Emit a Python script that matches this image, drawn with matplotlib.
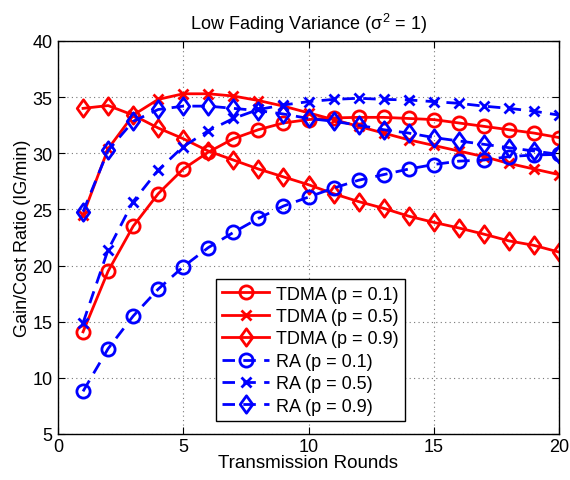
import matplotlib
matplotlib.use("Agg")
import matplotlib.pyplot as plt
from matplotlib.path import Path
import numpy as np

plt.rcParams['font.family'] = ['Liberation Sans', 'DejaVu Sans']
plt.rcParams['mathtext.fontset'] = 'custom'
plt.rcParams['mathtext.rm'] = 'Liberation Sans'
plt.rcParams['mathtext.it'] = 'Liberation Sans'

rounds = list(range(1, 21))
tdma_p01 = [14.1, 19.5, 23.5, 26.4, 28.6, 30.1, 31.3, 32.1, 32.7, 33.0,
            33.15, 33.2, 33.2, 33.1, 33.0, 32.7, 32.4, 32.1, 31.8, 31.4]
tdma_p05 = [24.5, 30.4, 33.4, 34.8, 35.3, 35.3, 35.1, 34.7, 34.2, 33.6,
            33.0, 32.4, 31.8, 31.2, 30.7, 30.2, 29.7, 29.1, 28.6, 28.1]
tdma_p09 = [34.0, 34.25, 33.4, 32.25, 31.3, 30.2, 29.4, 28.6, 27.9, 27.2,
            26.4, 25.7, 25.1, 24.4, 23.85, 23.35, 22.8, 22.2, 21.8, 21.2]
ra_p01 = [8.8, 12.6, 15.5, 17.9, 19.9, 21.6, 22.95, 24.2, 25.3, 26.1,
          26.9, 27.6, 28.1, 28.6, 29.0, 29.3, 29.4, 29.7, 29.85, 29.9]
ra_p05 = [14.9, 21.4, 25.7, 28.5, 30.6, 32.0, 33.1, 33.9, 34.3, 34.6,
          34.8, 34.9, 34.8, 34.75, 34.6, 34.45, 34.2, 34.0, 33.75, 33.4]
ra_p09 = [24.8, 30.25, 32.85, 33.9, 34.2, 34.2, 34.0, 33.8, 33.5, 33.1,
          32.85, 32.5, 32.1, 31.8, 31.4, 31.1, 30.8, 30.5, 30.2, 29.9]

labels = ['TDMA (p = 0.1)', 'TDMA (p = 0.5)', 'TDMA (p = 0.9)',
          'RA (p = 0.1)', 'RA (p = 0.5)', 'RA (p = 0.9)']
xticks = [0, 5, 10, 15, 20]
yticks = [5, 10, 15, 20, 25, 30, 35, 40]

# MATLAB-like tall diamond
diamond = Path([(0, 1), (0.72, 0), (0, -1), (-0.72, 0), (0, 1)],
               [Path.MOVETO, Path.LINETO, Path.LINETO, Path.LINETO, Path.CLOSEPOLY])

fig = plt.figure(figsize=(5.7, 4.81), dpi=100)
L, R, T, B = 58, 559, 42, 435
ax = fig.add_axes([L/570, 1-B/481, (R-L)/570, (B-T)/481])

series = [tdma_p01, tdma_p05, tdma_p09, ra_p01, ra_p05, ra_p09]
styles = [('r', '-', 'o'), ('r', '-', 'x'), ('r', '-', 'dia'),
          ('b', '--', 'o'), ('b', '--', 'x'), ('b', '--', 'dia')]
for s, (c, ls, m), lab in zip(series, styles, labels):
    if m == 'o':
        mk, ms = 'o', 9.5
    elif m == 'x':
        mk, ms = 'x', 7
    else:
        mk, ms = diamond, 12.5
    kw = dict(color=c, marker=mk, markersize=ms, markerfacecolor='none',
              markeredgecolor=c, markeredgewidth=2, linewidth=2, label=lab)
    if ls == '--':
        ax.plot(rounds, s, linestyle='--', dashes=(4.5, 3), **kw)
    else:
        ax.plot(rounds, s, linestyle='-', **kw)

ax.set_xlim(0, 20)
ax.set_ylim(5, 40)
ax.set_xticks(xticks)
ax.set_yticks(yticks)
ax.tick_params(direction='in', top=True, right=True, labelsize=13, length=5)
ax.tick_params(axis='x', pad=3)
ax.tick_params(axis='y', pad=4)
ax.grid(True, linestyle=(0, (1, 3)), color='#777777', linewidth=0.8)
for sp in ax.spines.values():
    sp.set_linewidth(1.0)

ax.set_xlabel('Transmission Rounds', fontsize=13.5, labelpad=-1)
ax.set_ylabel('Gain/Cost Ratio (IG/min)', fontsize=13, labelpad=1)
ax.set_title(r'Low Fading Variance ($\sigma^2$ = 1)', fontsize=13, pad=9)

leg = ax.legend(loc='lower left', bbox_to_anchor=((216-L)/(R-L), (B-422)/(B-T)),
                fontsize=13, frameon=True, fancybox=False, edgecolor='black',
                framealpha=1, handlelength=2.6, borderpad=0.35, labelspacing=0.3,
                handletextpad=0.35, borderaxespad=0)
leg.get_frame().set_linewidth(1.0)

fig.savefig('out.png', dpi=100)
